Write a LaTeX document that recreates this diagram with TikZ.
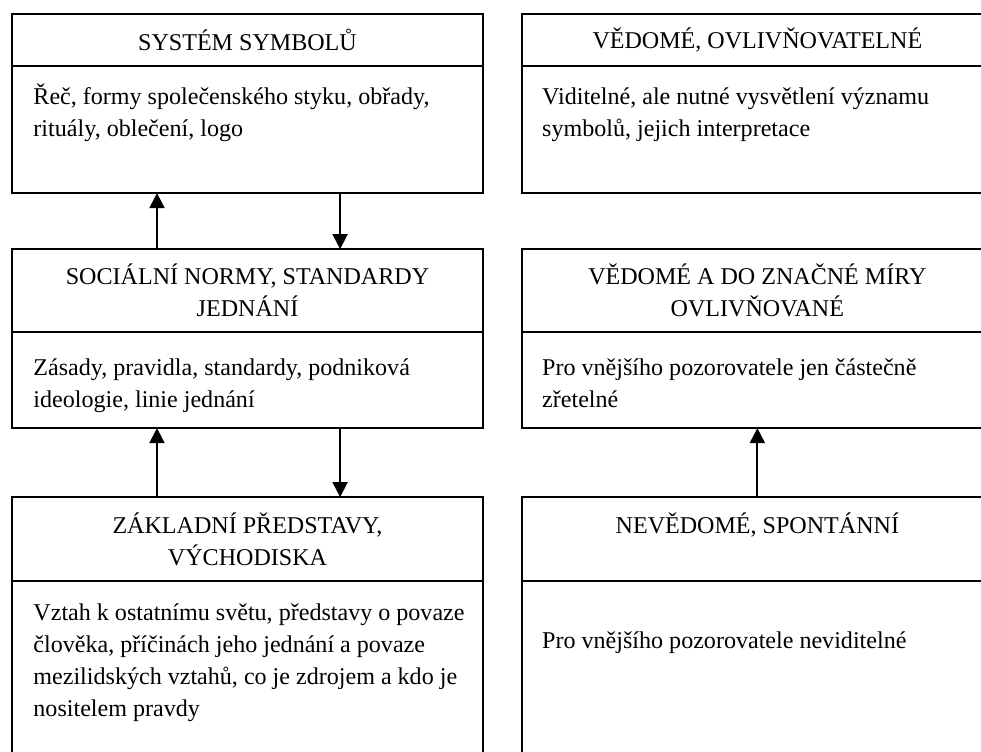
\documentclass[tikz,border=0pt]{standalone}
\usepackage{fontspec}
\setmainfont{Liberation Serif}
\usetikzlibrary{arrows.meta,positioning}

\begin{document}
\begin{tikzpicture}[
    every node/.style={font=\fontsize{12.8pt}{17pt}\selectfont},
    headbox/.style={rectangle, draw, line width=1pt, minimum width=250.5pt,
        inner sep=0pt, outer sep=0pt, align=center},
    bodybox/.style={rectangle, draw, line width=1pt, minimum width=250.5pt,
        inner sep=0pt, outer sep=0pt},
    bodytext/.style={anchor=north west, inner sep=0pt, align=left},
    >={Triangle[width=8pt,length=8pt]}
]
\useasboundingbox (0,0) rectangle (521.8pt,-399.5pt);
\clip (0,0) rectangle (521.8pt,-399.5pt);
% left column
\node[headbox, minimum height=27.7pt, anchor=north west] (symH) at (6.4pt,-7.4pt) {SYSTÉM SYMBOLŮ};
\node[bodybox, below=0pt of symH, minimum height=67.6pt] (symB) {};
\node[headbox, below=29.8pt of symB, minimum height=44.1pt] (normH) {SOCIÁLNÍ NORMY, STANDARDY\\JEDNÁNÍ};
\node[bodybox, below=0pt of normH, minimum height=51.1pt] (normB) {};
\node[headbox, below=36.7pt of normB, minimum height=44.7pt] (zakH) {ZÁKLADNÍ PŘEDSTAVY,\\VÝCHODISKA};
\node[bodybox, below=0pt of zakH, minimum height=100pt] (zakB) {};
% right column
\node[headbox, right=20.7pt of symH, minimum height=27.7pt] (vedH) {VĚDOMÉ, OVLIVŇOVATELNÉ};
\node[bodybox, below=0pt of vedH, minimum height=67.6pt] (vedB) {};
\node[headbox, below=29.8pt of vedB, minimum height=44.1pt] (ovlH) {VĚDOMÉ A DO ZNAČNÉ MÍRY\\OVLIVŇOVANÉ};
\node[bodybox, below=0pt of ovlH, minimum height=51.1pt] (ovlB) {};
\node[headbox, below=36.7pt of ovlB, minimum height=44.7pt] (nevH) {NEVĚDOMÉ, SPONTÁNNÍ\\\mbox{}};
\node[bodybox, below=0pt of nevH, minimum height=100pt] (nevB) {};
% body texts
\node[bodytext] (symT) at ([xshift=11.2pt,yshift=-8.6pt]symB.north west)
    {\strut Řeč, formy společenského styku, obřady,\\rituály, oblečení, logo};
\node[bodytext] (normT) at ([xshift=11.2pt,yshift=-11pt]normB.north west)
    {\strut Zásady, pravidla, standardy, podniková\\ideologie, linie jednání};
\node[bodytext] (zakT) at ([xshift=11.2pt,yshift=-8.8pt]zakB.north west)
    {\strut Vztah k ostatnímu světu, představy o povaze\\člověka, příčinách jeho jednání a povaze\\mezilidských vztahů, co je zdrojem a kdo je\\nositelem pravdy};
\node[bodytext] (vedT) at ([xshift=10.6pt,yshift=-8.6pt]vedB.north west)
    {\strut Viditelné, ale nutné vysvětlení významu\\symbolů, jejich interpretace};
\node[bodytext] (ovlT) at ([xshift=10.6pt,yshift=-11pt]ovlB.north west)
    {\strut Pro vnějšího pozorovatele jen částečně\\zřetelné};
\node[bodytext] (nevT) at ([xshift=10.6pt,yshift=-23.8pt]nevB.north west)
    {\strut Pro vnějšího pozorovatele neviditelné};
% arrows
\draw[->, line width=1pt] ([xshift=77.1pt]normH.north west) -- ([xshift=77.1pt]symB.south west);
\draw[->, line width=1pt] ([xshift=174.5pt]symB.south west) -- ([xshift=174.5pt]normH.north west);
\draw[->, line width=1pt] ([xshift=77.1pt]zakH.north west) -- ([xshift=77.1pt]normB.south west);
\draw[->, line width=1pt] ([xshift=174.5pt]normB.south west) -- ([xshift=174.5pt]zakH.north west);
\draw[->, line width=1pt] (nevH.north) -- (ovlB.south);
\end{tikzpicture}
\end{document}
